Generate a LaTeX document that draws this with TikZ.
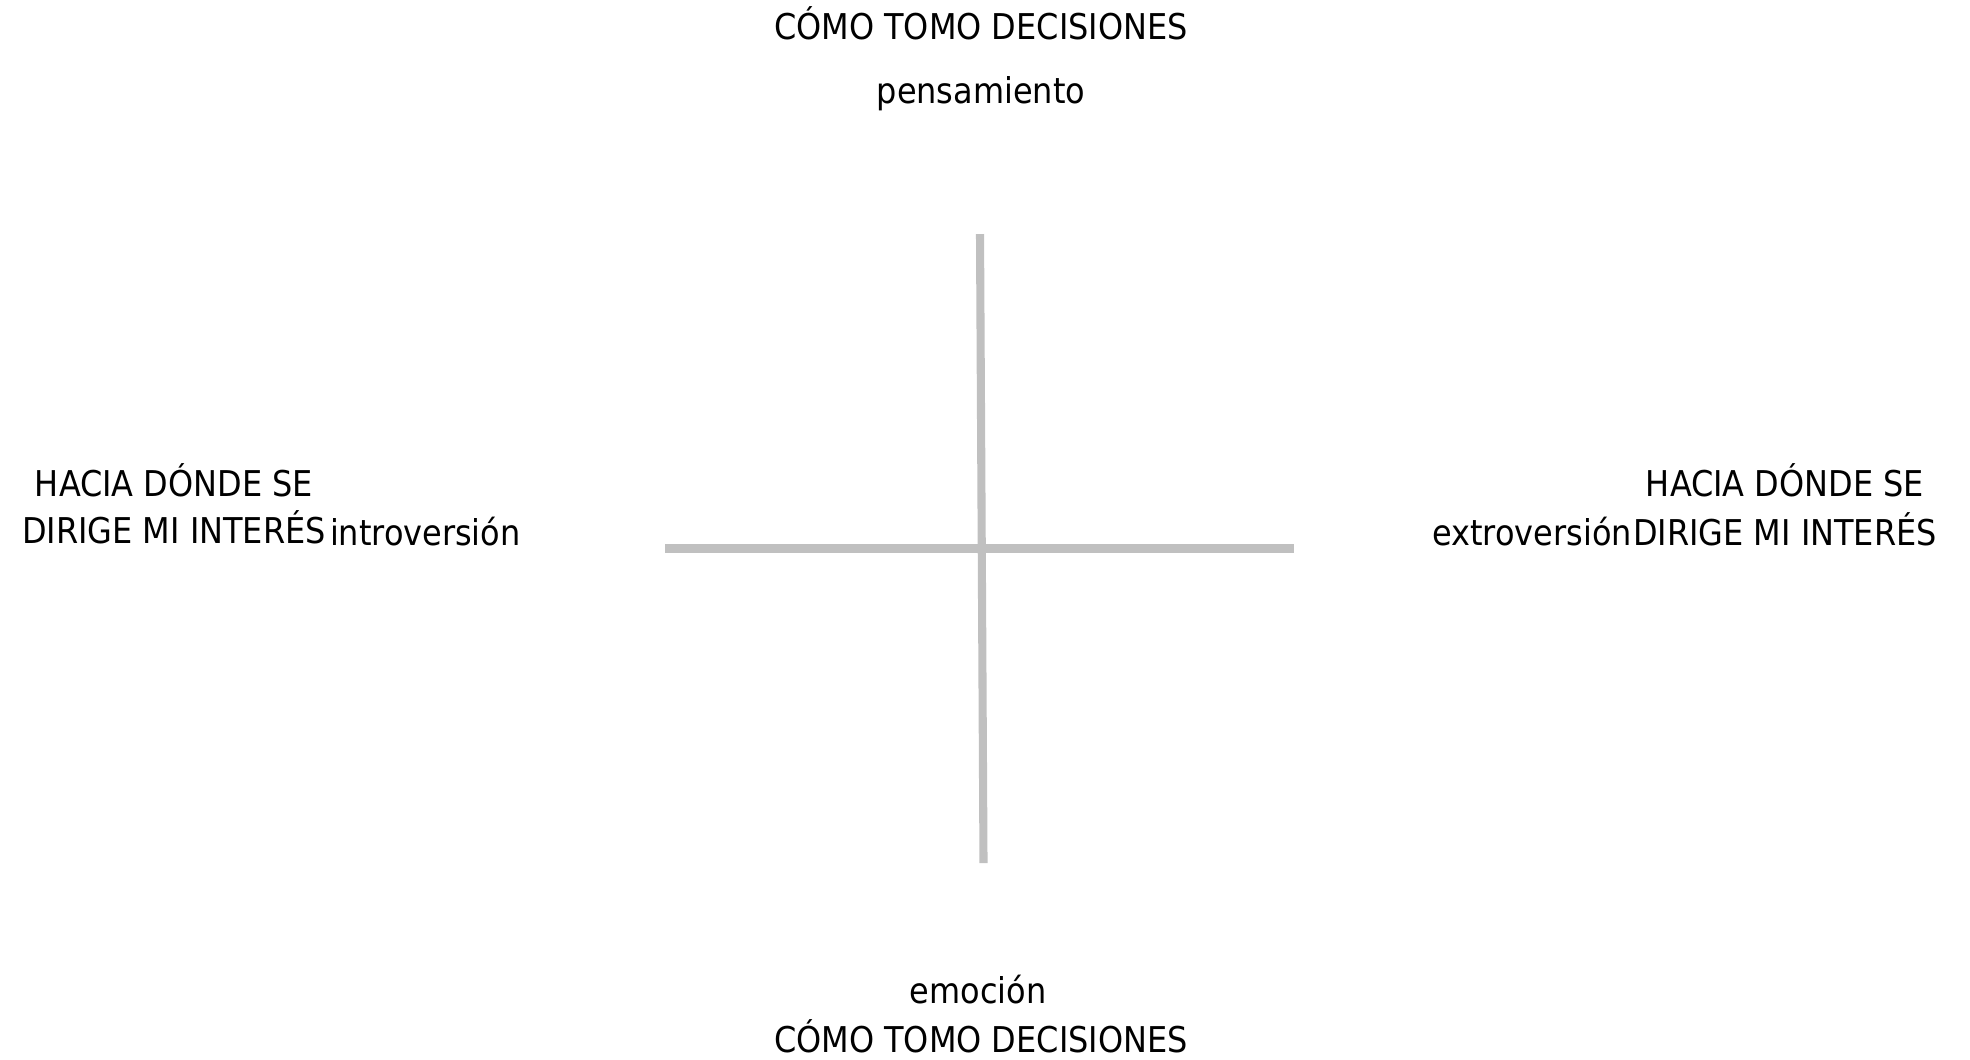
\documentclass[tikz,border=0pt]{standalone}
\usepackage{fontspec}
\setmainfont{DejaVu Sans Condensed}
\usepackage{xcolor}
\usetikzlibrary{positioning}
\definecolor{ejegris}{RGB}{192,192,192}

\begin{document}
\begin{tikzpicture}[x=0.01cm,y=-0.01cm,
  eje/.style={ejegris,line width=2.3pt},
  texto/.style={inner sep=0pt,anchor=base,font=\fontsize{10.1}{13.7}\selectfont}]
  \useasboundingbox (0,0) rectangle (1970,1059);
  % ejes
  \coordinate (arriba) at (980,234);
  \coordinate (abajo) at (983.5,863);
  \coordinate (izq) at (665,548.5);
  \coordinate (der) at (1294,548.5);
  \draw[eje] (arriba) -- (abajo);
  \draw[eje] (izq) -- (der);
  % arriba y abajo
  \node[texto] (titsup) at (981,39) {CÓMO TOMO DECISIONES};
  \node[texto] (pensamiento) at (981,103) {pensamiento};
  \node[texto] (emocion) at (978,1003) {emoción};
  \node[texto] (titinf) at (981,1052) {CÓMO TOMO DECISIONES};
  % izquierda
  \node[texto] (hacia1) at (174,496) {HACIA DÓNDE SE};
  \node[texto] (dirige1) at (174,543) {DIRIGE MI INTERÉS};
  \node[texto,anchor=base west] (intro) at ([xshift=0.8pt,yshift=-0.8pt]dirige1.base east) {introversión};
  % derecha
  \node[texto] (hacia2) at (1785,496) {HACIA DÓNDE SE};
  \node[texto] (dirige2) at (1785,545) {DIRIGE MI INTERÉS};
  \node[texto,anchor=base east] (extro) at (dirige2.base west) {extroversión};
\end{tikzpicture}
\end{document}
